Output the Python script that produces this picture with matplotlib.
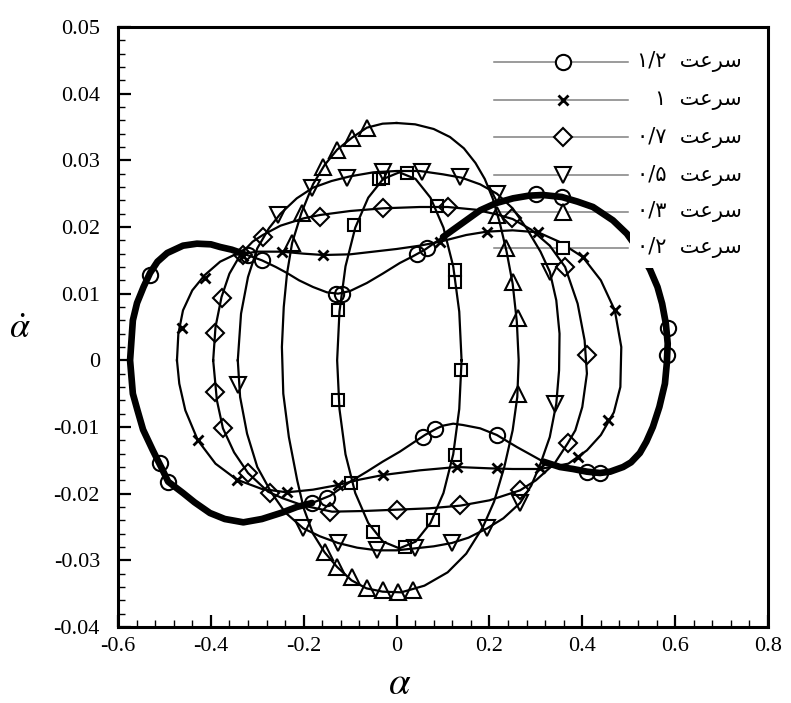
import matplotlib.pyplot as plt
import numpy as np
from matplotlib.patches import Rectangle
from matplotlib.ticker import MultipleLocator

plt.rcParams['font.family'] = ['Liberation Serif', 'DejaVu Sans']
plt.rcParams['mathtext.fontset'] = 'stix'

# phase portraits (alpha, alpha_dot)
curve_12 = np.array([
    (-0.574, 0.0), (-0.568, 0.006), (-0.559, 0.0086), (-0.545, 0.011), (-0.531, 0.0131),
    (-0.515, 0.0148), (-0.494, 0.0161), (-0.46, 0.0172), (-0.43, 0.0175), (-0.4, 0.0174),
    (-0.38, 0.017), (-0.355, 0.0166), (-0.33, 0.016), (-0.29, 0.015), (-0.26, 0.014),
    (-0.236, 0.0131), (-0.21, 0.012), (-0.18, 0.011), (-0.15, 0.0102), (-0.126, 0.0100),
    (-0.1, 0.0104), (-0.064, 0.0116), (-0.03, 0.013), (0.007, 0.0146), (0.035, 0.0156),
    (0.061, 0.0166), (0.1, 0.0185), (0.14, 0.0205), (0.18, 0.0225), (0.215, 0.0236),
    (0.251, 0.0243), (0.285, 0.0247), (0.315, 0.0248), (0.356, 0.0245), (0.39, 0.0238),
    (0.423, 0.023), (0.466, 0.021), (0.496, 0.019), (0.524, 0.0163), (0.546, 0.0136),
    (0.562, 0.011), (0.572, 0.0085), (0.58, 0.0055), (0.584, 0.0025), (0.582, -0.0005),
    (0.578, -0.0035), (0.566, -0.007), (0.552, -0.01), (0.538, -0.0122), (0.524, -0.0139),
    (0.505, -0.0153), (0.488, -0.016), (0.46, -0.0167), (0.438, -0.0169), (0.41, -0.0167),
    (0.38, -0.0163), (0.352, -0.016), (0.316, -0.0152), (0.285, -0.014), (0.259, -0.013),
    (0.235, -0.012), (0.216, -0.0112), (0.18, -0.0102), (0.143, -0.0097), (0.122, -0.0095),
    (0.1, -0.0098), (0.087, -0.0102), (0.061, -0.0112), (0.035, -0.0124), (0.007, -0.0137),
    (-0.03, -0.0152), (-0.064, -0.0167), (-0.1, -0.0182), (-0.143, -0.0203), (-0.182, -0.0214),
    (-0.215, -0.022), (-0.245, -0.0228), (-0.29, -0.0238), (-0.33, -0.0243), (-0.37, -0.0238),
    (-0.402, -0.0229), (-0.435, -0.0213), (-0.46, -0.0199), (-0.492, -0.0182), (-0.505, -0.0163),
    (-0.525, -0.0135), (-0.546, -0.0104), (-0.558, -0.0075), (-0.568, -0.005),
])
marks_12 = np.array([
    (-0.531, 0.0128), (-0.32, 0.0158), (-0.29, 0.015), (-0.13, 0.0099), (-0.118, 0.0099),
    (0.044, 0.016), (0.066, 0.0168), (0.3, 0.025), (0.356, 0.0245), (0.585, 0.0049),
    (0.582, 0.0008), (0.438, -0.0169), (0.41, -0.0167), (0.216, -0.0112), (0.083, -0.0103),
    (0.057, -0.0115), (-0.182, -0.0214), (-0.15, -0.0207), (-0.492, -0.0182), (-0.51, -0.0154),
])

curve_10 = np.array([
    (-0.473, 0.0), (-0.47, 0.004), (-0.46, 0.0075), (-0.44, 0.0105), (-0.413, 0.0128),
    (-0.38, 0.0148), (-0.35, 0.0158), (-0.3, 0.0163), (-0.247, 0.0163), (-0.2, 0.016),
    (-0.158, 0.0158), (-0.1, 0.0159), (-0.05, 0.0163), (0.0, 0.0167), (0.05, 0.0172),
    (0.094, 0.0178), (0.15, 0.0188), (0.194, 0.0193), (0.25, 0.0195), (0.305, 0.0192),
    (0.35, 0.0178), (0.401, 0.0155), (0.44, 0.012), (0.47, 0.0075), (0.484, 0.002),
    (0.482, -0.004), (0.468, -0.0078), (0.44, -0.0112), (0.41, -0.0135), (0.37, -0.0155),
    (0.309, -0.0163), (0.25, -0.0163), (0.2, -0.0162), (0.13, -0.016), (0.05, -0.0165),
    (-0.029, -0.0172), (-0.08, -0.0179), (-0.126, -0.0187), (-0.18, -0.0194), (-0.236, -0.0198),
    (-0.29, -0.0193), (-0.344, -0.0179), (-0.39, -0.0155), (-0.428, -0.012), (-0.455, -0.0075),
    (-0.468, -0.0035),
])
marks_10 = np.array([
    (-0.462, 0.0048), (-0.413, 0.0124), (-0.33, 0.0157), (-0.247, 0.0163), (-0.158, 0.0158),
    (0.094, 0.0177), (0.194, 0.0193), (0.305, 0.0193), (0.401, 0.0155), (0.47, 0.0075),
    (0.455, -0.009), (0.391, -0.0145), (0.309, -0.0162), (0.216, -0.0162), (0.13, -0.016),
    (-0.029, -0.0172), (-0.126, -0.0187), (-0.236, -0.0197), (-0.344, -0.0179), (-0.428, -0.012),
])

curve_07 = np.array([
    (-0.395, 0.0), (-0.39, 0.005), (-0.377, 0.0095), (-0.36, 0.013), (-0.335, 0.016),
    (-0.31, 0.0178), (-0.288, 0.0188), (-0.25, 0.0202), (-0.2, 0.0213), (-0.165, 0.0218),
    (-0.1, 0.0224), (-0.03, 0.0228), (0.05, 0.023), (0.11, 0.023), (0.17, 0.0226),
    (0.215, 0.0219), (0.25, 0.0212), (0.29, 0.0196), (0.33, 0.0172), (0.363, 0.014),
    (0.39, 0.0085), (0.405, 0.003), (0.41, -0.002), (0.4, -0.007), (0.385, -0.0105),
    (0.369, -0.0124), (0.34, -0.0155), (0.3, -0.018), (0.266, -0.0195), (0.2, -0.021),
    (0.137, -0.0218), (0.07, -0.0222), (0.0, -0.0224), (-0.07, -0.0226), (-0.139, -0.0227),
    (-0.2, -0.0218), (-0.245, -0.0207), (-0.277, -0.0197), (-0.32, -0.0169), (-0.35, -0.0138),
    (-0.374, -0.0102), (-0.387, -0.006),
])
marks_07 = np.array([
    (-0.376, 0.0093), (-0.391, 0.0041), (-0.391, -0.0047), (-0.374, -0.0102), (-0.32, -0.0169),
    (-0.273, -0.0199), (-0.143, -0.0228), (0.0, -0.0224), (0.137, -0.0217), (0.266, -0.0195),
    (0.369, -0.0124), (0.41, 0.0008), (0.363, 0.014), (0.249, 0.0213), (0.11, 0.023),
    (-0.029, 0.0228), (-0.165, 0.0215), (-0.288, 0.0185), (-0.33, 0.0158),
])

curve_05 = np.array([
    (-0.342, 0.0), (-0.335, 0.007), (-0.32, 0.0125), (-0.3, 0.0168), (-0.275, 0.0198),
    (-0.25, 0.022), (-0.215, 0.0243), (-0.18, 0.0259), (-0.14, 0.0269), (-0.1, 0.0276),
    (-0.05, 0.0282), (0.0, 0.0284), (0.05, 0.0284), (0.1, 0.0279), (0.14, 0.0274),
    (0.18, 0.0264), (0.216, 0.025), (0.25, 0.0228), (0.28, 0.0198), (0.31, 0.0163),
    (0.33, 0.0133), (0.344, 0.009), (0.351, 0.004), (0.35, -0.0015), (0.344, -0.0065),
    (0.33, -0.0115), (0.31, -0.0155), (0.29, -0.0188), (0.266, -0.0214), (0.23, -0.0237),
    (0.195, -0.0252), (0.155, -0.0266), (0.119, -0.0274), (0.08, -0.0279), (0.04, -0.0282),
    (0.0, -0.0285), (-0.042, -0.0285), (-0.085, -0.0281), (-0.126, -0.0274), (-0.165, -0.0264),
    (-0.201, -0.0252), (-0.24, -0.0228), (-0.27, -0.0198), (-0.3, -0.016), (-0.322, -0.011),
    (-0.337, -0.0055),
])
marks_05 = np.array([
    (-0.342, -0.0037), (-0.255, 0.0218), (-0.182, 0.0259), (-0.107, 0.0273), (-0.029, 0.0283),
    (0.055, 0.0283), (0.137, 0.0275), (0.216, 0.025), (0.33, 0.0133), (0.342, -0.0065),
    (0.266, -0.0214), (0.195, -0.0252), (0.119, -0.0274), (0.04, -0.0282), (-0.042, -0.0285),
    (-0.126, -0.0274), (-0.201, -0.0252),
])

curve_03 = np.array([
    (0.0, 0.0356), (0.04, 0.0354), (0.08, 0.0347), (0.115, 0.0335), (0.145, 0.0318),
    (0.17, 0.0296), (0.19, 0.0272), (0.207, 0.0243), (0.222, 0.0207), (0.237, 0.0163),
    (0.25, 0.0115), (0.259, 0.0058), (0.263, 0.0), (0.26, -0.0055), (0.25, -0.0105),
    (0.232, -0.016), (0.21, -0.0212), (0.186, -0.025), (0.15, -0.029), (0.11, -0.0318),
    (0.06, -0.0338), (0.01, -0.0348), (-0.03, -0.0347), (-0.065, -0.0342), (-0.097, -0.033),
    (-0.128, -0.031), (-0.155, -0.0288), (-0.18, -0.026), (-0.2, -0.0222), (-0.214, -0.018),
    (-0.232, -0.0115), (-0.244, -0.005), (-0.247, 0.002), (-0.243, 0.008), (-0.236, 0.013),
    (-0.225, 0.0176), (-0.205, 0.0221), (-0.18, 0.0264), (-0.155, 0.0293), (-0.128, 0.0316),
    (-0.096, 0.0334), (-0.064, 0.0349), (-0.03, 0.0355),
])
marks_03 = np.array([
    (-0.064, 0.0349), (-0.096, 0.0334), (-0.128, 0.0316), (-0.158, 0.029), (-0.204, 0.0221),
    (-0.225, 0.0176), (0.216, 0.0218), (0.236, 0.0168), (0.251, 0.0118), (0.262, 0.0064),
    (0.262, -0.005), (-0.154, -0.0288), (-0.128, -0.031), (-0.096, -0.0325), (-0.064, -0.0342),
    (-0.03, -0.0345), (0.003, -0.0347), (0.035, -0.0345),
])

curve_02 = np.array([
    (0.140, 0.0), (0.135, 0.0073), (0.122, 0.0141), (0.101, 0.0199), (0.073, 0.0244),
    (0.041, 0.0272), (0.006, 0.0282), (-0.029, 0.0272), (-0.061, 0.0244), (-0.089, 0.0199),
    (-0.110, 0.0141), (-0.123, 0.0073), (-0.128, 0.0), (-0.123, -0.0073), (-0.110, -0.0141),
    (-0.089, -0.0199), (-0.061, -0.0244), (-0.029, -0.0272), (0.006, -0.0282), (0.041, -0.0272),
    (0.073, -0.0244), (0.101, -0.0199), (0.122, -0.0141), (0.135, -0.0073),
])
marks_02 = np.array([
    (-0.126, 0.0076), (-0.126, -0.006), (-0.091, 0.0203), (-0.038, 0.0272), (-0.03, 0.0274),
    (0.022, 0.0281), (0.087, 0.0231), (0.125, 0.0136), (0.125, 0.0118), (0.139, -0.0015),
    (0.126, -0.0142), (0.079, -0.024), (0.018, -0.028), (-0.05, -0.0258), (-0.098, -0.0184),
])

speeds = ['۱/۲', '۱', '۰/۷', '۰/۵', '۰/۳', '۰/۲']
# "سرعت" in presentation forms, visual order (matplotlib does not shape Arabic)
word = '\uFE96\uFECB\uFEAE\uFEB3'

series = [
    (curve_12, marks_12, dict(marker='o', ms=11)),
    (curve_10, marks_10, dict(marker='x', ms=7, mew=2.0)),
    (curve_07, marks_07, dict(marker='D', ms=9)),
    (curve_05, marks_05, dict(marker='v', ms=11)),
    (curve_03, marks_03, dict(marker='^', ms=11)),
    (curve_02, marks_02, dict(marker='s', ms=9)),
]

fig = plt.figure(figsize=(7.91, 7.03), dpi=100)
L, B, W, H = 118, 627, 650, 600
ax = fig.add_axes([L / 791, 1 - B / 703, W / 791, H / 703])


def px2ax(px, py):
    return (px - L) / W, (B - py) / H


for curve, marks, mk in series:
    closed = np.vstack([curve, curve[:1]])
    ax.plot(closed[:, 0], closed[:, 1], color='black', lw=1.6, zorder=3)
    style = dict(color='black', ls='none', mfc='none', mew=1.5, zorder=4)
    style.update(mk)
    ax.plot(marks[:, 0], marks[:, 1], **style)

# thick parts of the 1.2 loop (overlapping cycles)
for idx in (np.r_[26:58], np.r_[74:89, 0:13]):
    seg = curve_12[idx]
    ax.plot(seg[:, 0], seg[:, 1], color='black', lw=4.8, solid_capstyle='round', zorder=3)

# legend, drawn by hand like the original
x0, y0 = px2ax(630, 268)
x1, y1 = px2ax(765, 44)
ax.add_patch(Rectangle((x0, y0), x1 - x0, y1 - y0, transform=ax.transAxes,
                       fc='white', ec='none', zorder=5))
rows = [62, 100, 137, 175, 212, 248]
for (curve, marks, mk), sp, py in zip(series, speeds, rows):
    xa, ya = px2ax(494, py)
    xb, _ = px2ax(628, py)
    xm, _ = px2ax(563, py)
    xt, _ = px2ax(742, py)
    ax.plot([xa, xb], [ya, ya], transform=ax.transAxes, color='0.5', lw=1.1, zorder=2)
    style = dict(color='black', ls='none', mfc='white', mew=1.5, zorder=6)
    style.update(mk)
    ax.plot([xm], [ya], transform=ax.transAxes, **style)
    ax.text(xt, ya, sp + '  ' + word, transform=ax.transAxes, ha='right', va='center',
            fontsize=15, family='DejaVu Sans', zorder=7)

ax.set_xlim(-0.6, 0.8)
ax.set_ylim(-0.04, 0.05)
xticks = [-0.6, -0.4, -0.2, 0, 0.2, 0.4, 0.6, 0.8]
yticks = [-0.04, -0.03, -0.02, -0.01, 0, 0.01, 0.02, 0.03, 0.04, 0.05]
ax.set_xticks(xticks, ['-0.6', '-0.4', '-0.2', '0', '0.2', '0.4', '0.6', '0.8'])
ax.set_yticks(yticks, ['-0.04', '-0.03', '-0.02', '-0.01', '0', '0.01', '0.02', '0.03', '0.04', '0.05'])
ax.xaxis.set_minor_locator(MultipleLocator(0.04))
ax.yaxis.set_minor_locator(MultipleLocator(0.002))
ax.tick_params(which='major', direction='in', length=9, width=1.6, labelsize=16)
ax.tick_params(axis='x', which='major', pad=7)
ax.tick_params(axis='y', which='major', pad=13)
ax.tick_params(which='minor', direction='in', length=5, width=1.0)
for sp in ax.spines.values():
    sp.set_linewidth(2.2)

ax.set_xlabel(r'$\alpha$', fontsize=28)
ax.xaxis.set_label_coords(*px2ax(400, 685))
ax.xaxis.label.set_va('center')
ax.set_ylabel(r'$\dot{\alpha}$', fontsize=26, rotation=0)
ax.yaxis.set_label_coords(*px2ax(20, 330))
ax.yaxis.label.set_va('center')

fig.savefig('out.png', dpi=100)
